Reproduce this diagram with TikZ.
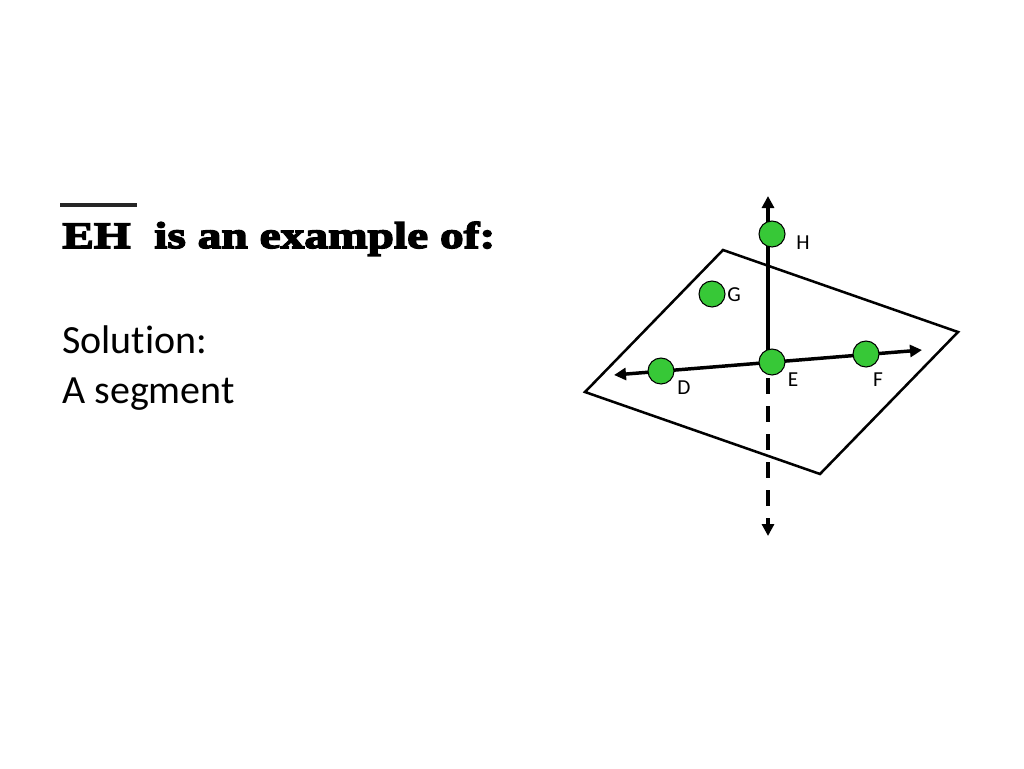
\documentclass[tikz,border=0pt]{standalone}
\usepackage{fontspec}
\setmainfont{Carlito}[Ligatures=NoCommon]
\newfontfamily\titlefont[FakeStretch=1.27,FakeBold=4]{Liberation Serif}
\usetikzlibrary{arrows.meta}
\definecolor{dotgreen}{RGB}{55,200,55}
\tikzset{
  pt/.style={circle, draw=black, line width=0.8pt, fill=dotgreen, minimum size=19.5pt, inner sep=0pt},
  ptname/.style={inner sep=0pt, font=\fontsize{16}{19}\selectfont},
  axis/.style={line width=2.6pt},
  tip/.style={-{Triangle[length=9pt,width=9pt]}},
  bothtips/.style={{Triangle[length=9pt,width=9pt]}-{Triangle[length=9pt,width=9pt]}}
}
\begin{document}
\begin{tikzpicture}[x=0.75pt,y=-0.75pt]
  \useasboundingbox (0,0) rectangle (1024,768);
  \fill[white] (0,0) rectangle (1024,768);

  % Question and answer
  \draw[black!85, line width=2.6pt] (60,205) -- (137,205);
  \node[anchor=base west, inner sep=0pt, font=\titlefont\bfseries\fontsize{28}{32}\selectfont] (seg) at (62,248) {EH};
  \node[anchor=base west, inner sep=0pt, font=\titlefont\bfseries\fontsize{28}{32}\selectfont] (question) at (154,248) {is an example of:};
  \node[anchor=base west, inner sep=0pt, font=\fontsize{30}{36}\selectfont] (solution) at (62,353) {Solution:};
  \node[anchor=base west, inner sep=0pt, font=\fontsize{30}{36}\selectfont] (answer) at (62,403) {A segment};

  % Plane
  \draw[line width=1.9pt, line join=miter] (723,250) -- (958,332) -- (820,474) -- (585,392) -- cycle;

  % Ends of the lines
  \coordinate (top) at (768,196);
  \coordinate (bottom) at (768,536);
  \coordinate (left) at (614,375);
  \coordinate (right) at (922,350);
  \coordinate (Ec) at (768,362);

  % Lines
  \draw[axis, bothtips] (left) -- (right);
  \draw[axis, tip] (Ec) -- (top);
  \draw[axis, tip, dash pattern=on 12pt off 9pt] (768,378) -- (bottom);

  % Points
  \node[pt] (H) at (772,234) {};
  \node[pt] (G) at (712,294) {};
  \node[pt] (D) at (661,371) {};
  \node[pt] (E) at (772,362) {};
  \node[pt] (F) at (866,354) {};

  % Point names
  \node[ptname] (Hn) at (803,243) {H};
  \node[ptname] (Gn) at (734,295) {G};
  \node[ptname] (Dn) at (684,388) {D};
  \node[ptname] (En) at (793,380) {E};
  \node[ptname] (Fn) at (878,380) {F};
\end{tikzpicture}
\end{document}
